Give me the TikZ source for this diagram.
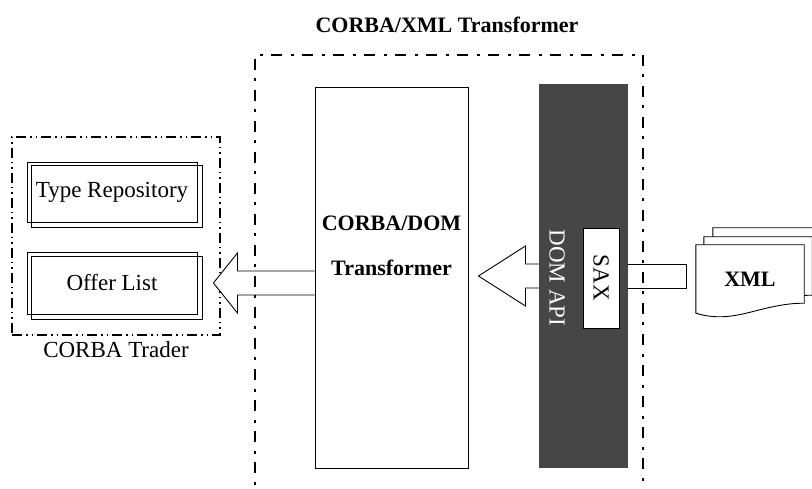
\documentclass[tikz,border=0pt]{standalone}
\usepackage{fontspec}
\setmainfont{Liberation Serif}
\usetikzlibrary{shapes,arrows,calc,positioning,backgrounds}
\definecolor{apigray}{HTML}{464646}
\tikzstyle{stage} = [rectangle, draw, line width=0.9pt, fill=white,
    minimum width=153pt, minimum height=381pt, inner sep=0pt]
\tikzstyle{apibar} = [rectangle, fill=apigray, minimum width=89pt, minimum height=384pt]
\tikzstyle{store} = [rectangle, draw, line width=0.9pt, minimum width=170pt, minimum height=60pt]
\tikzstyle{parser} = [rectangle, draw, line width=0.9pt, fill=white, rotate=-90,
    minimum width=100pt, minimum height=36pt, inner sep=0pt]
\tikzstyle{sheet} = [draw, line width=0.9pt, fill=white]
\tikzstyle{blockarrow} = [draw, line width=0.9pt, fill=white]
\tikzstyle{outerframe} = [draw, line width=1.6pt,
    dash pattern=on 11pt off 8.5pt on 3pt off 8.5pt]
\tikzstyle{traderframe} = [draw, line width=1.1pt,
    dash pattern=on 10pt off 4pt on 1.5pt off 4pt on 1.5pt off 4pt]
\newcommand{\docsheet}[2]{%
    \draw[sheet] ([shift={(#1,#2)}]xml.north west) -- ([shift={(#1,#2)}]xml.north east)
      -- ([shift={(#1,#2-10)}]xml.south east)
      .. controls ([shift={(#1-44,#2-10)}]xml.south east) and ([shift={(#1-69,#2+12)}]xml.south east)
      .. ([shift={(#1,#2)}]xml.south west) -- cycle;}

\begin{document}
\begin{tikzpicture}[x=1pt, y=-1pt, font=\fontsize{23}{27}\selectfont]
    \useasboundingbox (0,0) rectangle (812,489);

    % Place nodes
    \node[traderframe, minimum width=208pt, minimum height=198pt](trader) at (116,236){};
    \node[below=2pt of trader](traderlabel){CORBA Trader};
    \node[store](typerep) at (112,192){Type Repository};
    \node[store, minimum height=62pt](offerlist) at (112,283){Offer List};
    \draw[line width=0.9pt] ([shift={(5,4)}]typerep.north west) rectangle ([shift={(5,5)}]typerep.south east);
    \draw[line width=0.9pt] ([shift={(5,5)}]offerlist.north west) rectangle ([shift={(5,5)}]offerlist.south east);

    \node[stage](transformer) at (391.5,277.5){};
    \node[align=center, font=\fontsize{22}{45}\selectfont\bfseries, yshift=32pt](transformerlabel)
        at (transformer.center){CORBA/DOM\\Transformer};

    \node[apibar](domapi) at (583.5,276){};
    \node[rotate=-90, text=white](domapilabel) at (557,278){DOM API};
    \node[parser](sax) at (601,278){SAX};

    \node[minimum width=108pt, minimum height=68pt, font=\fontsize{22}{26}\selectfont\bfseries](xml)
        at (750,279){XML};
    \begin{pgfonlayer}{background}
    \docsheet{17}{-17}
    \docsheet{8}{-8}
    \docsheet{0}{0}
    \end{pgfonlayer}

    % Draw edges
    \path[blockarrow] let \p1=(domapi.west), \p2=(transformer.east) in
        (\x1,\y1+12pt) -- (\x2+57pt,\y1+12pt) -- (\x2+57pt,\y1+30pt) -- (\x2+10pt,\y1)
        -- (\x2+57pt,\y1-30pt) -- (\x2+57pt,\y1-12pt) -- (\x1,\y1-12pt);
    \path[blockarrow] let \p1=(transformer.west), \p2=(offerlist.east) in
        (\x1,\y2+12pt) -- (\x2+40pt,\y2+12pt) -- (\x2+40pt,\y2+30pt) -- (\x2+16pt,\y2)
        -- (\x2+40pt,\y2-30pt) -- (\x2+40pt,\y2-12pt) -- (\x1,\y2-12pt);
    \path[blockarrow, fill=none] let \p1=(domapi.east), \p2=(xml.west) in
        (\x1,\y1+12pt) -- (\x2-9pt,\y1+12pt) -- (\x2-9pt,\y1-12pt) -- (\x1,\y1-12pt);

    \node[outerframe, minimum width=388pt, minimum height=460pt](frame) at (449,285){};
    \node[font=\fontsize{22}{26}\selectfont\bfseries](title) at (447,25){CORBA/XML Transformer};
\end{tikzpicture}
\end{document}
